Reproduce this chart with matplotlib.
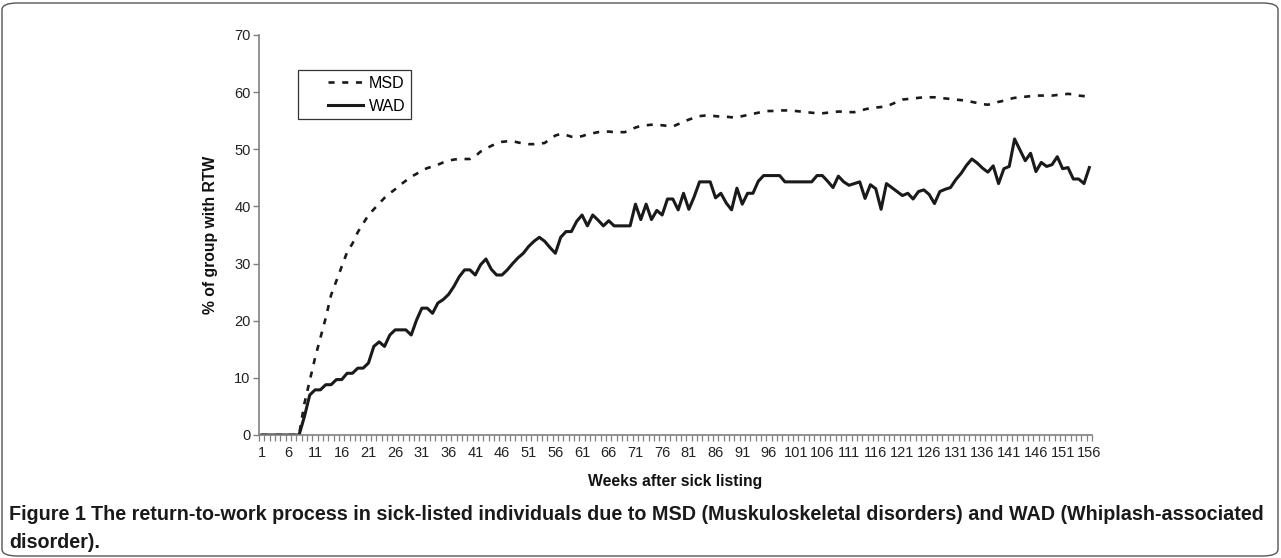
import matplotlib
matplotlib.use("Agg")
import matplotlib.pyplot as plt
from matplotlib.patches import FancyBboxPatch
from matplotlib.lines import Line2D
from matplotlib.legend_handler import HandlerLine2D

weeks = list(range(1, 157))

msd = [0, 0, 0, 0, 0, 0, 0, 0, 5.5, 9.5,
       13.5, 17, 20.5, 24.5, 27, 29.5, 32, 33.5, 35.5, 37,
       38.5, 39.5, 40.5, 41.5, 42.3, 43, 43.8, 44.5, 45.2, 45.7,
       46.3, 46.7, 47, 47.3, 47.7, 48, 48.2, 48.3, 48.3, 48.3,
       48.8, 49.6, 50.1, 50.6, 51, 51.3, 51.4, 51.4, 51.2, 51,
       50.9, 50.9, 51, 51.1, 51.8, 52.4, 52.7, 52.5, 52.2, 52.1,
       52.3, 52.6, 52.8, 53, 53.1, 53.1, 53, 53, 53, 53.4,
       53.8, 54.1, 54.2, 54.3, 54.3, 54.2, 54.1, 54, 54.4, 54.8,
       55.2, 55.5, 55.8, 55.9, 55.9, 55.8, 55.7, 55.7, 55.6, 55.6,
       55.8, 56, 56.2, 56.4, 56.6, 56.7, 56.7, 56.8, 56.8, 56.8,
       56.7, 56.6, 56.5, 56.4, 56.3, 56.3, 56.4, 56.5, 56.6, 56.6,
       56.5, 56.5, 56.7, 57, 57.2, 57.3, 57.4, 57.5, 57.9, 58.3,
       58.7, 58.8, 58.9, 59, 59.1, 59.1, 59.1, 59, 58.9, 58.8,
       58.7, 58.6, 58.5, 58.3, 58.1, 57.9, 57.8, 58, 58.3, 58.5,
       58.8, 59, 59.1, 59.2, 59.3, 59.4, 59.4, 59.4, 59.4, 59.5,
       59.6, 59.7, 59.6, 59.4, 59.3, 59.2]

wad = [0, 0, 0, 0, 0, 0, 0, 0, 3.2, 7.0,
       7.9, 7.9, 8.8, 8.8, 9.7, 9.7, 10.8, 10.8, 11.7, 11.7,
       12.6, 15.5, 16.3, 15.5, 17.5, 18.4, 18.4, 18.4, 17.5, 20.1,
       22.2, 22.2, 21.3, 23.1, 23.7, 24.6, 26.0, 27.7, 28.9, 28.9,
       28.0, 29.8, 30.8, 29.0, 28.0, 28.0, 28.9, 30.0, 31.0, 31.8,
       33.0, 33.9, 34.6, 33.9, 32.8, 31.8, 34.6, 35.6, 35.6, 37.4,
       38.5, 36.6, 38.5, 37.6, 36.6, 37.5, 36.6, 36.6, 36.6, 36.6,
       40.4, 37.7, 40.4, 37.7, 39.3, 38.5, 41.3, 41.3, 39.4, 42.3,
       39.5, 41.7, 44.3, 44.3, 44.3, 41.5, 42.3, 40.6, 39.4, 43.2,
       40.4, 42.3, 42.3, 44.4, 45.4, 45.4, 45.4, 45.4, 44.3, 44.3,
       44.3, 44.3, 44.3, 44.3, 45.4, 45.4, 44.4, 43.3, 45.3, 44.3,
       43.7, 44.0, 44.3, 41.4, 43.8, 43.1, 39.5, 44.0, 43.3, 42.6,
       41.9, 42.3, 41.3, 42.6, 42.9, 42.1, 40.5, 42.6, 43.0, 43.3,
       44.7, 45.8, 47.2, 48.3, 47.6, 46.7, 46.0, 47.1, 44.0, 46.6,
       47.0, 51.8, 49.9, 48.0, 49.3, 46.1, 47.7, 47.0, 47.3, 48.7,
       46.6, 46.8, 44.8, 44.8, 44.0, 46.8]

series_names = ["MSD", "WAD"]
tick_weeks = list(range(1, 157, 5))
tick_labels = [str(w) for w in tick_weeks]
y_ticks = [0, 10, 20, 30, 40, 50, 60, 70]

assert len(msd) == len(weeks) and len(wad) == len(weeks)

W, H = 1281, 558
fig = plt.figure(figsize=(W / 100, H / 100), dpi=100)
fig.patch.set_facecolor("white")

# outer rounded frame
frame = FancyBboxPatch((2 / W, 2 / H), (W - 5) / W, (H - 5) / H,
                       boxstyle="round,pad=0,rounding_size=0.012",
                       transform=fig.transFigure, fill=False,
                       edgecolor="#555555", linewidth=1.0)
fig.patches.append(frame)

ax = fig.add_axes([259 / W, 1 - 435 / H, (1092 - 259) / W, (435 - 35) / H])
dash = (0, (2.3, 2.9))
ax.plot(weeks, msd, color="#1a1a1a", linewidth=1.9, linestyle=dash,
        label=series_names[0], dash_capstyle="butt")
ax.plot(weeks, wad, color="#1a1a1a", linewidth=2.2, label=series_names[1])

ax.set_xlim(0.5, 156.5)
ax.set_ylim(0, 70)
for s in ["top", "right"]:
    ax.spines[s].set_visible(False)
for s in ["left", "bottom"]:
    ax.spines[s].set_color("#808080")
    ax.spines[s].set_linewidth(1.2)

tick_font = {"family": "Liberation Sans", "size": 10.5}
ax.set_yticks(y_ticks)
ax.set_yticklabels([str(v) for v in y_ticks], fontdict=tick_font, color="#222222")
ax.tick_params(axis="y", direction="out", length=4, width=1, color="#808080", pad=2)

ax.set_xticks(tick_weeks)
ax.set_xticklabels(tick_labels, fontdict=tick_font, color="#222222")
ax.set_xticks([w + 0.5 for w in range(0, 157)], minor=True)
ax.tick_params(axis="x", which="major", length=0, pad=8)
ax.tick_params(axis="x", which="minor", direction="out", length=4, width=0.9, color="#808080")

lab_font = {"family": "Liberation Sans", "size": 11.3, "weight": "bold"}
ax.set_xlabel("Weeks after sick listing", fontdict=lab_font, labelpad=10, color="#111111")
ax.set_ylabel("% of group with RTW", fontdict=lab_font, labelpad=12, color="#111111")

handles = [Line2D([], [], color="#1a1a1a", linewidth=1.9, linestyle=dash),
           Line2D([], [], color="#1a1a1a", linewidth=2.2)]
hmap = {h: HandlerLine2D(xpad=1.5) for h in handles}
leg = ax.legend(handles, series_names, loc="upper left", handler_map=hmap,
                bbox_to_anchor=((298 - 259) / (1092 - 259), (435 - 70) / 400),
                borderaxespad=0, frameon=True, fancybox=False, shadow=False,
                framealpha=1, edgecolor="#333333", handlelength=3.7,
                handletextpad=0.37, borderpad=0.35, labelspacing=0.5,
                prop={"family": "Liberation Sans", "size": 11.5})
leg.get_frame().set_linewidth(0.9)

cap_font = ["Liberation Sans Narrow", "Liberation Sans"]
cap_size = 14.2
t1 = fig.text(9 / W, 1 - 514 / H, "Figure 1", fontsize=cap_size, va="center", ha="left",
              family=cap_font, weight="bold", color="#1a1a1a")
fig.canvas.draw()
bb = t1.get_window_extent()
fig.text((bb.x1 + 5) / W, 1 - 514 / H,
         "The return-to-work process in sick-listed individuals due to MSD (Muskuloskeletal disorders) and WAD (Whiplash-associated",
         fontsize=cap_size, va="center", ha="left", family=cap_font, weight="bold", color="#1a1a1a")
fig.text(9 / W, 1 - 542 / H, "disorder).", fontsize=cap_size, va="center", ha="left",
         family=cap_font, weight="bold", color="#1a1a1a")

fig.savefig("out.png", dpi=100, facecolor="white")
